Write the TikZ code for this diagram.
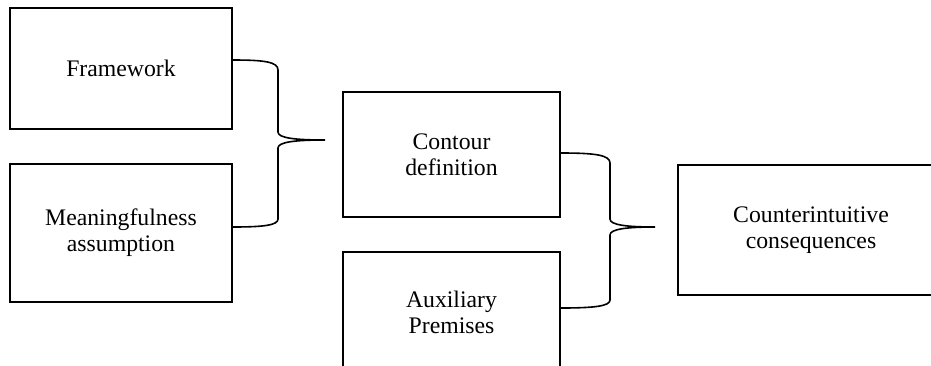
\documentclass[tikz,border=0pt]{standalone}
\usepackage{fontspec}
\setmainfont{Liberation Serif}
\usetikzlibrary{positioning}

\tikzset{
  box/.style={draw, line width=1.4pt, inner sep=0pt, align=center,
    font=\fontsize{17.8}{19.6}\selectfont},
  brace/.style={line width=1.2pt}
}

\begin{document}
\begin{tikzpicture}[x=0.75pt, y=-0.75pt]

\useasboundingbox (0,0) rectangle (931,365);
\clip (0,0) rectangle (931,365);

% boxes
\node[box, minimum width=166.5pt, minimum height=90.75pt] (fw) at (121,68.5) {Framework};
\node[box, minimum width=166.5pt, minimum height=103.5pt] (mean) at (121,233) {Meaningfulness\\assumption};
\node[box, minimum width=162.75pt, minimum height=93.75pt] (cont) at (451.5,154.5) {Contour\\definition};
\node[box, minimum width=162.75pt, minimum height=90pt] (aux) at (451.5,312) {Auxiliary\\Premises};
\node[box, minimum width=199.5pt, minimum height=97.5pt] (cons) at (811,230) {Counterintuitive\\consequences};

\coordinate (fwend) at (fw.east |- 0,60);
\coordinate (meanend) at (mean.east |- 0,227);
\coordinate (tipA) at (325,140);
\coordinate (contend) at (cont.east |- 0,153);
\coordinate (auxend) at (aux.east |- 0,308);
\coordinate (tipB) at (655,227);

% first brace
\draw[brace] (fwend) .. controls (265,60) and (278,62) .. (278,70) -- (278,132)
  .. controls (278,138) and (295,140) .. (tipA)
  .. controls (295,140) and (278,142) .. (278,148) -- (278,219)
  .. controls (278,225) and (265,227) .. (meanend);

% second brace
\draw[brace] (contend) .. controls (595,153) and (610,155) .. (610,163) -- (610,219)
  .. controls (610,225) and (627,227) .. (tipB)
  .. controls (627,227) and (610,229) .. (610,235) -- (610,300)
  .. controls (610,306) and (595,308) .. (auxend);

\end{tikzpicture}
\end{document}
